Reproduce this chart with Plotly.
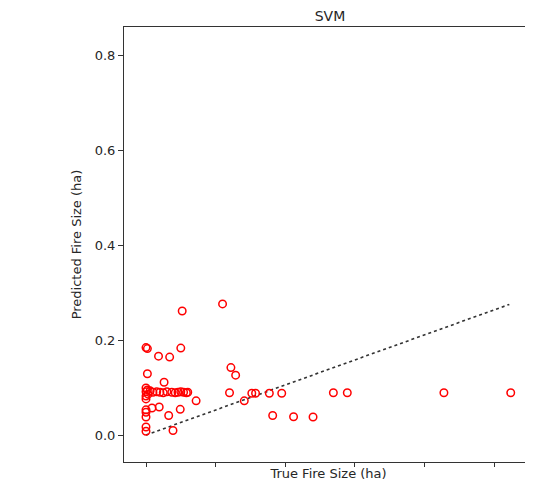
import plotly.graph_objects as go

# True vs predicted fire sizes (ha)
true_size = [
    0.026, 0.055, 0.000, 0.001, 0.009, 0.017, 0.025, 0.001, 0.013,
    0.000, 0.000, 0.000, 0.001, 0.0015, 0.000, 0.003,
    0.005, 0.0077, 0.010, 0.0124, 0.015, 0.0185, 0.021, 0.023, 0.025, 0.027, 0.029, 0.030,
    0.036, 0.000, 0.000, 0.000, 0.000, 0.000,
    0.0043, 0.0095, 0.0163, 0.0246, 0.0194,
    0.061, 0.0644, 0.060, 0.0706, 0.076, 0.0787, 0.0886, 0.0975,
    0.091, 0.106, 0.120, 0.1346, 0.1446, 0.214, 0.262,
]
pred_size = [
    0.261, 0.276, 0.184, 0.182, 0.166, 0.164, 0.183, 0.129, 0.111,
    0.099, 0.091, 0.082, 0.095, 0.086, 0.076, 0.093,
    0.090, 0.091, 0.090, 0.089, 0.091, 0.090, 0.089, 0.090, 0.091, 0.090, 0.089, 0.090,
    0.072, 0.053, 0.048, 0.038, 0.017, 0.008,
    0.057, 0.059, 0.041, 0.054, 0.0095,
    0.142, 0.126, 0.089, 0.072, 0.088, 0.088, 0.088, 0.088,
    0.041, 0.0385, 0.038, 0.089, 0.089, 0.089, 0.089,
]
ref_line_x = [0.0, 0.261]
ref_line_y = [0.0, 0.275]
y_ticks = [0.0, 0.2, 0.4, 0.6, 0.8]
x_ticks = [0.0, 0.05, 0.10, 0.15, 0.20, 0.25]

font = "DejaVu Sans"
W, H = 525, 491  # page body has an 8px default margin

fig = go.Figure()
fig.add_trace(go.Scatter(
    x=ref_line_x, y=ref_line_y, mode="lines",
    line=dict(color="#333333", width=1.6, dash="dot"),
    hoverinfo="skip", showlegend=False,
))
fig.add_trace(go.Scatter(
    x=true_size, y=pred_size, mode="markers",
    marker=dict(symbol="circle-open", size=7.5, color="red", line=dict(width=1.5, color="red")),
    showlegend=False,
))

fig.update_layout(
    width=W, height=H,
    margin=dict(l=116, r=0, t=19, b=37),
    plot_bgcolor="white", paper_bgcolor="white",
    font=dict(family=font, size=13, color="#262626"),
    title=dict(text="SVM", x=322 / W, xref="container", xanchor="center",
               y=1 - 3 / H, yref="container", yanchor="top", pad=dict(t=0, b=0),
               font=dict(family=font, size=14, color="#262626")),
    xaxis=dict(
        range=[-0.0158, 0.278], tickvals=x_ticks, showticklabels=False,
        ticks="outside", ticklen=4, tickcolor="#333333",
        showline=True, linecolor="#333333", linewidth=1, mirror=True,
        showgrid=False, zeroline=False, automargin=False,
        title=dict(text="True Fire Size (ha)", standoff=2, font=dict(size=13)),
    ),
    yaxis=dict(
        range=[-0.0568, 0.859], tickvals=y_ticks, tickformat=".1f",
        ticks="outside", ticklen=5, tickcolor="#333333",
        showline=True, linecolor="#333333", linewidth=1, mirror=False,
        showgrid=False, zeroline=False, automargin=False,
        title=dict(text="Predicted Fire Size (ha)", standoff=10, font=dict(size=13)),
    ),
)

fig.write_html("out.html")
